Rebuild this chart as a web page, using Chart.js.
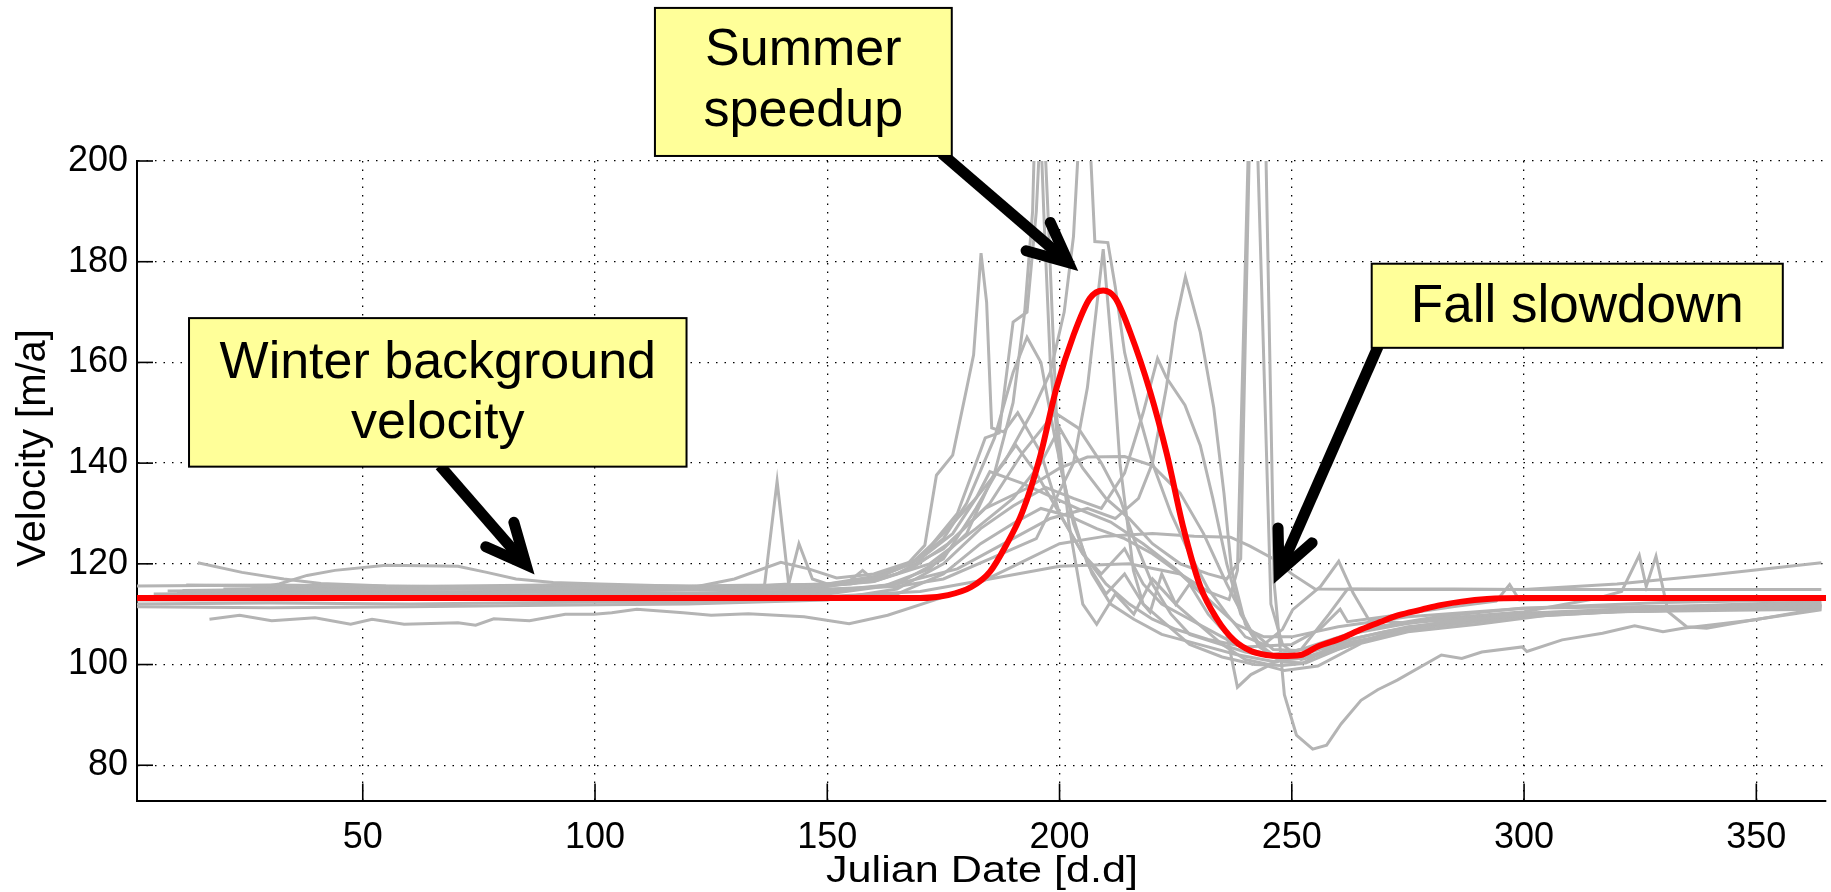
<!DOCTYPE html>
<html>
<head>
<meta charset="utf-8">
<script src="https://cdn.jsdelivr.net/npm/chart.js@4.4.1/dist/chart.umd.min.js"></script>
<style>
html,body{margin:0;padding:0;background:#fff;overflow:hidden}
#wrap{width:1831px;height:892px;position:relative}
</style>
</head>
<body>
<div id="wrap"><canvas id="c" width="1831" height="892"></canvas></div>
<script>
// ---------- axis ticks & titles ----------
const xTickValues = [50, 100, 150, 200, 250, 300, 350];
const yTickValues = [80, 100, 120, 140, 160, 180, 200];
const xAxisTitle = 'Julian Date [d.d]';
const yAxisTitle = 'Velocity [m/a]';

// ---------- model curve (red) : [day, velocity] ----------
const modelVelocity = [[1.4,113.2],[170,113.2],[176,113.8],[181,115.4],[185,118.4],[188.5,123.7],[192,130.3],[195.7,140.9],[199.3,154.8],[203,165.4],[206.5,172.7],[209.4,174.3],[212,172.8],[215.2,166],[219.5,154.2],[223.1,141.8],[226.7,127],[230.3,115.5],[234,108.9],[237.6,104.8],[241.2,102.7],[244.5,101.9],[247.7,101.7],[251.9,101.9],[255.6,103.6],[260.6,105.2],[265,107],[269.2,108.5],[273,109.8],[277.9,110.9],[282,111.8],[286.6,112.5],[292,113],[299.6,113.2],[365,113.2]];

// ---------- observed series (grey) : [day, velocity] ----------
const series01 = [[14.5,120.2],[24,118.3],[33,117],[41,116.1],[55,115.6],[75,115.4],[100,115.1],[125,115.2],[150,115.6],[160,116.5],[168,119],[176,124],[184,131],[193,135],[200,139],[206,141.2],[214,141.3],[220,139.5],[226,134],[231,126],[236,116],[241,107],[246,103],[251,102.8],[258,104],[270,106.5],[285,108.8],[300,109.8],[320,110.5],[345,111],[364,111.5]];
const series02 = [[25.8,115],[32,116],[38,117.7],[44,118.7],[55,119.7],[70.5,119.5],[76.7,118.3],[83,117],[91,116.3],[101,116],[113,115.7],[122,115.5],[130,117],[140,120.3],[146,119],[152,117.2],[160,118],[170,121],[177,126],[182,133],[185,138.3],[192,136],[199,133],[205,130.5],[211,128.3],[218,124],[225,119],[232,113],[238,108],[244,105.5],[250,105.5],[260,107.5],[275,109.5],[300,111.2],[330,112.3],[364,112.9]];
const series03 = [[17,109],[23.5,109.8],[30.4,108.7],[39.7,109.3],[47.4,108],[52,109],[58.9,108],[70.5,108.3],[74.3,107.8],[78.2,109.1],[85.9,108.7],[93.6,110],[99.8,110],[103.6,110.3],[109,111],[119,110.3],[125,109.8],[133,110.1],[145,109.5],[154.7,108.1],[163,109.8],[174,113.1],[181,115.5],[190,119.5],[200,124],[210,125.5],[220,126],[229,125.5],[236.8,125.3],[241,123.5],[246,121],[250,118],[255,115],[270,114.9],[300,114.9],[330,114.9],[364,114.9]];
const series04 = [[1.4,115.6],[30,115.8],[60,115.5],[90,115.8],[120,115.6],[136.5,115.8],[139.2,136.4],[141.7,115.8],[155,116],[160,117],[167,119.7],[171,123.7],[173.5,137.6],[177,141.6],[180,154.8],[181.5,161.5],[183.1,181.7],[184.3,172],[185.4,147],[188,146.2],[191,150],[196,142],[200,130],[205,122],[209,118],[214,123],[218,116],[222,112],[228,109],[234,106],[240,103],[246,101.5],[252,102],[260,104.5],[275,107.5],[300,110],[330,111],[364,111.8]];
const series05 = [[8,114.6],[40,114.8],[80,115],[110,115.2],[135,115.6],[141.7,116],[143.9,124],[146.8,117],[150,116],[160,117],[170,121],[178,130],[184,145],[187,146],[190,168],[193,170],[195,190],[196.3,215],[197.5,190],[199.3,150],[202,128],[205,112],[208,108],[212,114],[216,110],[220,117],[225,112],[230,108],[235,104],[240,101],[245,100],[250,101.5],[260,104],[280,107.5],[300,109.5],[320,110.5],[345,110.8],[364,111]];
const series06 = [[9.5,113.8],[30,114.2],[60,114],[90,114.4],[120,114.2],[150,114.6],[165,116],[178,119],[188,124],[198,129],[206,131],[212,129],[217,133],[220,140],[223,155],[225,168],[227.1,177],[230.3,166],[233.2,151],[235.4,134],[237,119],[240,108],[243,103.5],[247,101],[252,101.2],[260,103.5],[275,107],[300,109.7],[330,111.3],[364,112.2]];
const series07 = [[1.4,111.5],[30,111.3],[60,111.5],[90,111.8],[120,112],[150,112.8],[165,115],[175,120],[183,127],[190,131.5],[197,135.2],[203,133],[209,131],[214,138],[218,150],[221.1,160.8],[223,157],[227,151.5],[230.3,143.5],[233,133],[236,120],[239,110],[243,104],[248,100.5],[253,100.3],[260,103],[270,106],[285,108.8],[300,110.2],[330,111],[364,111.5]];
const series08 = [[1.4,112.8],[30,112.8],[60,113],[90,113.2],[120,113.3],[150,113.5],[170,114.5],[185,117],[200,119.5],[215,120],[226,118],[232,114.5],[236.5,112.9],[238.3,118.7],[242.8,280],[246.2,116.2],[248.4,94],[251,86],[254.5,83.2],[257.5,84],[260.6,88.2],[264.9,92.9],[268.5,95],[272.7,96.9],[282.2,101.9],[286.6,101.2],[290.9,102.5],[299.6,103.5],[300.6,102.6],[308.2,104.9],[316.9,106.2],[323.8,107.7],[329.9,106.5],[334.2,107.2],[349.8,108.9],[364,111.2]];
const series09 = [[10,114.5],[40,114.6],[70,114.3],[100,114.7],[130,115],[150,115.5],[160,117],[168,120],[175,126],[182,133],[188,140],[194,150],[198,158],[201,170],[203,185],[204.5,210],[205.5,230],[206.5,205],[207.6,184],[210.4,183.8],[212,175],[214,162],[217,150],[220,140],[224,130],[228,122],[232,115],[236,110],[240,105.5],[244,104],[248,107],[250.2,110.9],[256.2,115.5],[260.1,120.5],[263.2,114.2],[266.6,108.9],[275,108.2],[290,109.5],[310,110.3],[330,111],[364,111.8]];
const series10 = [[5,114],[40,114.3],[80,114.5],[120,114.8],[150,115],[165,115.5],[175,117],[185,121],[195,125],[203,140],[206,155],[209.4,182.5],[211.5,160],[213,140],[215.9,118.7],[218,112],[219.5,110.4],[222,118],[225,112],[228,116],[232,110],[236,106],[240,103],[246,102],[252,103],[258,110],[262,115],[270,115],[285,115],[300,114.9],[320,116],[340,117.8],[364,120.2]];
const series11 = [[12,115.8],[40,115.6],[70,115.5],[100,115.3],[130,115.6],[150,116],[154,116],[157.6,118.7],[160,116.8],[165,118],[175,123],[185,132],[192,142],[199,150],[204,147],[209,140],[213,133],[216,125],[220,116],[224,110],[228,106],[233,104.5],[240,102.5],[246,101.5],[252,103],[262,106],[280,109],[300,110.5],[315,113],[321,114.5],[324.8,121.7],[326.3,115.5],[328.4,121.5],[331,110.5],[335,107.5],[339.3,107.2],[349.5,108.9],[364,110.9]];
const series12 = [[1.4,112],[30,112.2],[60,112],[90,112.3],[120,112.5],[150,113],[165,114],[175,118],[183,124],[190,128],[196,131],[202,129.5],[208,127],[214,125],[220,122],[226,118],[231,113.7],[236,106],[238.3,95.5],[241.2,98],[244.8,99.7],[248.4,98.8],[255.6,99.7],[264.9,104.2],[275,106.5],[290,108],[305,109.8],[320,110.5],[340,111],[364,111.5]];
const series13 = [[20,115],[50,115.3],[80,115.2],[110,115],[140,115.3],[160,116.5],[172,120],[182,127],[190,133],[196,140],[200,147],[205,139],[210,133],[215,129],[220,124],[226,120],[232,118],[236,117],[239,121],[241.6,235],[245.5,112],[248,104],[252,101],[258,102.5],[270,106],[285,108.5],[300,110.2],[320,111],[340,111.8],[364,112.5]];
const series14 = [[3,113.5],[30,113.7],[60,113.6],[90,113.9],[120,114],[150,114.3],[165,116],[175,121],[182,131],[187,139],[190.6,143.6],[195,138],[200,130],[205,122],[210,116],[215,112],[220,109],[225,107],[232,105],[240,103.5],[250,104],[256,107],[260.4,111],[262,108.5],[270,109.5],[285,111.5],[294,112.6],[296.9,115.9],[299,112.8],[320,113],[340,113.2],[364,113.5]];
const series15 = [[11.2,114.7],[40,115],[70,115.1],[100,115.3],[130,115.4],[150,116],[160,117.5],[168,120],[175,125],[180,132],[186,145],[190,158],[193,165],[196,160],[199,145],[202,132],[206,120],[210,114],[214,118],[218,112],[223,108],[228,104],[235,101.5],[242,100],[248,99.8],[252.3,100.2],[264.6,106.9],[281.3,109.5],[299.4,111.2],[330,111.6],[364,111.9]];
const series16 = [[6,113.3],[40,113.5],[80,113.4],[120,113.7],[150,114],[162,115.5],[172,119],[180,126],[186,138],[190,152],[192.5,170],[194.2,190],[195.2,225],[196.6,190],[198,160],[200,140],[203,128],[207,118],[211,112],[216,109],[222,106],[230,104],[238,102],[246,100.6],[254,101.5],[265,104.5],[280,107.8],[300,109.9],[330,111.1],[364,111.7]];

const greySeries = [series01, series02, series03, series04, series05, series06, series07, series08, series09, series10, series11, series12, series13, series14, series15, series16];

// ---------- callouts (text + anchor points in data units) ----------
const callouts = [
  { lines: ['Winter background', 'velocity'], box: [12.6, 119.7, 168.8, 139.3], tail: [66.6, 139.5], tip: [86.7, 118.2], size: 52, dy: [-29, 31] },
  { lines: ['Summer', 'speedup'], box: [112.9, 176.8, 230.4, 201.0], tail: [174.6, 201.5], tip: [203.7, 178.4], size: 52, dy: [-31, 30] },
  { lines: ['Fall slowdown'], box: [267.2, 355.7, 179.6, 162.9], tail: [268.6, 163.2], tip: [246.3, 116.4], size: 53, dy: [2] }
];

const FONT = "'Liberation Sans', Arial, Helvetica, sans-serif";

function drawArrow(ctx, x0, y0, xt, yt) {
  const ang = Math.atan2(yt - y0, xt - x0);
  const back = 11;
  const x1 = xt - back * Math.cos(ang), y1 = yt - back * Math.sin(ang);
  ctx.strokeStyle = '#000';
  ctx.lineWidth = 11;
  ctx.lineCap = 'butt';
  ctx.beginPath(); ctx.moveTo(x0, y0); ctx.lineTo(x1 - 4 * Math.cos(ang), y1 - 4 * Math.sin(ang)); ctx.stroke();
  const L = 44, h = 25 * Math.PI / 180;
  ctx.lineCap = 'round'; ctx.lineJoin = 'miter'; ctx.miterLimit = 10;
  ctx.beginPath();
  ctx.moveTo(x1 - L * Math.cos(ang - h), y1 - L * Math.sin(ang - h));
  ctx.lineTo(x1, y1);
  ctx.lineTo(x1 - L * Math.cos(ang + h), y1 - L * Math.sin(ang + h));
  ctx.stroke();
}

const decorPlugin = {
  id: 'decor',
  afterDatasetsDraw(chart) {
    const { ctx, chartArea: a, scales: { x, y } } = chart;
    ctx.save();
    // inward tick marks
    ctx.strokeStyle = '#000'; ctx.lineWidth = 1.6; ctx.setLineDash([]);
    xTickValues.forEach(v => {
      const px = x.getPixelForValue(v);
      ctx.beginPath(); ctx.moveTo(px, a.bottom); ctx.lineTo(px, a.bottom - 17); ctx.stroke();
    });
    yTickValues.forEach(v => {
      const py = y.getPixelForValue(v);
      ctx.beginPath(); ctx.moveTo(a.left, py); ctx.lineTo(a.left + 16, py); ctx.stroke();
    });
    // axis titles
    ctx.fillStyle = '#000';
    ctx.font = '40px ' + FONT;
    ctx.textAlign = 'center'; ctx.textBaseline = 'middle';
    ctx.save(); ctx.translate(34, 448); ctx.rotate(-Math.PI / 2); ctx.fillText(yAxisTitle, 0, 0); ctx.restore();
    ctx.save(); ctx.translate(982, 882); ctx.scale(1.2, 1);
    ctx.font = '36px ' + FONT; ctx.textBaseline = 'alphabetic'; ctx.fillText(xAxisTitle, 0, 0); ctx.restore();
    // callouts: arrows first, then boxes
    callouts.forEach(c => {
      drawArrow(ctx, x.getPixelForValue(c.tail[0]), y.getPixelForValue(c.tail[1]), x.getPixelForValue(c.tip[0]), y.getPixelForValue(c.tip[1]));
    });
    callouts.forEach(c => {
      const l = x.getPixelForValue(c.box[0]), r = x.getPixelForValue(c.box[1]);
      const t = y.getPixelForValue(c.box[2]), b = y.getPixelForValue(c.box[3]);
      ctx.fillStyle = '#ffff99';
      ctx.fillRect(l, t, r - l, b - t);
      ctx.strokeStyle = '#000'; ctx.lineWidth = 2; ctx.lineJoin = 'miter';
      ctx.strokeRect(l, t, r - l, b - t);
      ctx.fillStyle = '#000';
      ctx.font = c.size + 'px ' + FONT;
      ctx.textAlign = 'center'; ctx.textBaseline = 'middle';
      const cx = (l + r) / 2, cy = (t + b) / 2;
      c.lines.forEach((s, i) => ctx.fillText(s, cx, cy + c.dy[i]));
    });
    ctx.restore();
  }
};

const datasets = [{
  label: 'model',
  data: modelVelocity.map(([d, v]) => ({ x: d, y: v })),
  borderColor: '#ff0000',
  borderWidth: 6,
  pointRadius: 0,
  cubicInterpolationMode: 'monotone',
  order: 0,
  clip: 0
}].concat(greySeries.map((s, i) => ({
  label: 'obs' + (i + 1),
  data: s.map(([d, v]) => ({ x: d, y: v })),
  borderColor: '#b4b4b4',
  borderWidth: 3,
  pointRadius: 0,
  tension: 0,
  order: 1,
  clip: 0
})));

new Chart(document.getElementById('c'), {
  type: 'line',
  data: { datasets },
  options: {
    responsive: false,
    devicePixelRatio: 1,
    animation: false,
    events: [],
    layout: { padding: { left: 0, right: 5, top: 161, bottom: 0 } },
    plugins: { legend: { display: false }, tooltip: { enabled: false }, title: { display: false } },
    scales: {
      x: {
        type: 'linear', min: 1.4, max: 365,
        afterBuildTicks: s => { s.ticks = xTickValues.map(v => ({ value: v })); },
        afterFit: s => { s.height = 91.5; },
        grid: { color: '#000', lineWidth: 1.3, drawTicks: false },
        border: { display: true, color: '#000', width: 2, dash: [1.5, 7] },
        ticks: { color: '#000', font: { family: FONT, size: 36 }, padding: 16, maxRotation: 0, autoSkip: false }
      },
      y: {
        type: 'linear', min: 73, max: 200,
        afterBuildTicks: s => { s.ticks = yTickValues.map(v => ({ value: v })); },
        afterFit: s => { s.width = 137; },
        grid: { color: '#000', lineWidth: 1.3, drawTicks: false },
        border: { display: true, color: '#000', width: 2, dash: [1.5, 7] },
        ticks: { color: '#000', font: { family: FONT, size: 36 }, padding: 9 }
      }
    }
  },
  plugins: [decorPlugin]
});
</script>
</body>
</html>
